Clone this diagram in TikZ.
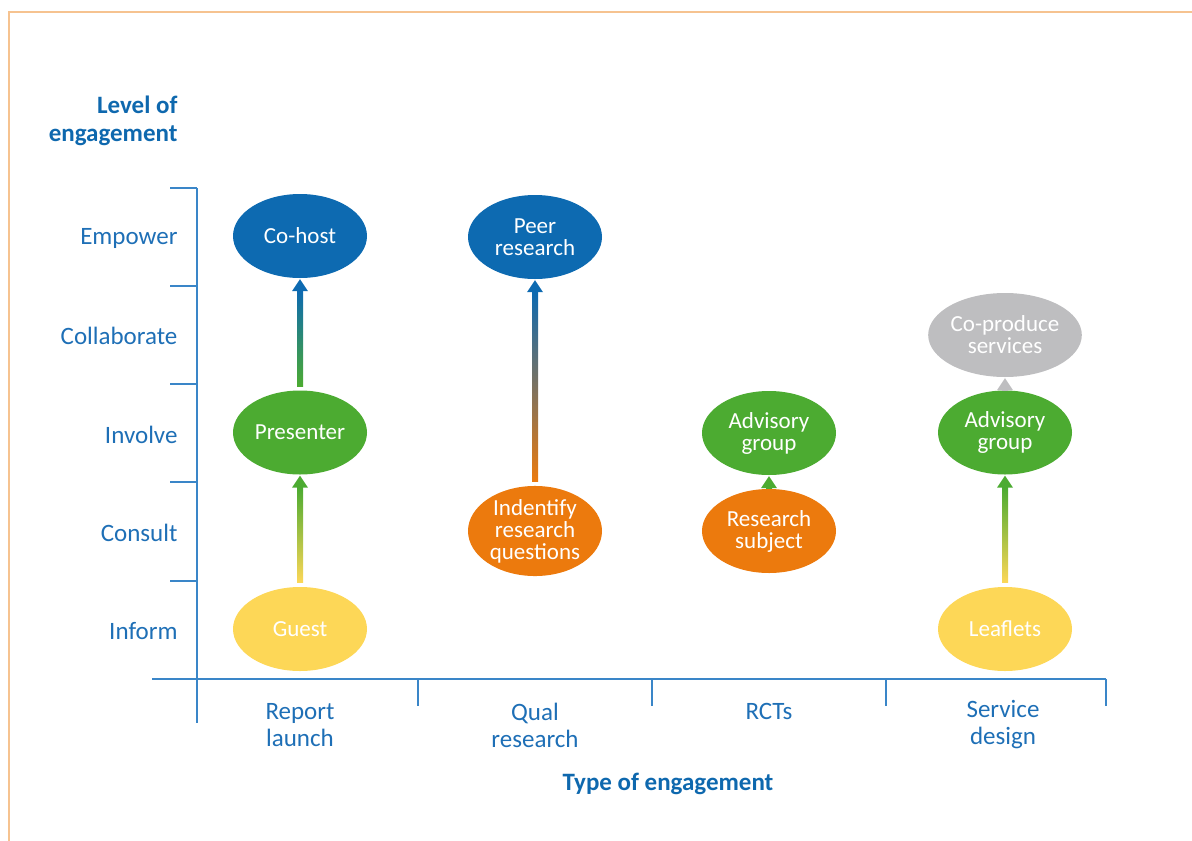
\documentclass[tikz,border=0pt]{standalone}
\usepackage{fontspec}
\setmainfont{Carlito}
\usetikzlibrary{calc,shapes.geometric}

\definecolor{axisblue}{HTML}{3A86C8}
\definecolor{labelblue}{HTML}{1E6FB6}
\definecolor{titleblue}{HTML}{0E68AE}
\definecolor{hostblue}{HTML}{0D6AB1}
\definecolor{leafgreen}{HTML}{4CAB31}
\definecolor{sunyellow}{HTML}{FDD757}
\definecolor{deeporange}{HTML}{EC7A0D}
\definecolor{softgrey}{HTML}{BEBEC0}
\definecolor{frameorange}{HTML}{F6C390}

% shaded shaft from #1 up to #2, bottom colour #3, top colour #4
\newcommand{\riser}[4]{%
  \shade[bottom color=#3, top color=#4] ($(#1.north)+(-3,-4)$) rectangle ($(#2.south)+(3,13)$);
  \fill[#4] ($(#2.south)+(-8,13)$) -- ($(#2.south)+(8,13)$) -- ($(#2.south)+(0,1)$) -- cycle;}

\begin{document}
\begin{tikzpicture}[x=1pt, y=-1pt, node distance=196.5pt,
    role/.style={ellipse, minimum width=134pt, minimum height=84pt, inner sep=0pt,
      text=white, align=center, font=\fontsize{23}{22}\selectfont},
    level/.style={text=labelblue, anchor=east, font=\fontsize{25}{28}\selectfont},
    colname/.style={text=labelblue, align=center, font=\fontsize{25}{27}\selectfont},
    heading/.style={text=titleblue, font=\bfseries\fontsize{25}{28}\selectfont},
    axis/.style={axisblue, line width=1.5pt}]
    \useasboundingbox (0,0) rectangle (1192,841);
    \draw[frameorange, line width=1.5pt] (1192,12) -- (9,12) -- (9,841);

    % axes
    \draw[axis] (197,188) -- (197,723);
    \foreach \y in {188,286,384,482,581}
        \draw[axis] (170,\y) -- (197,\y);
    \draw[axis] (152,679) -- (1106,679);
    \foreach \x in {418,652,886,1106}
        \draw[axis] (\x,679) -- (\x,706);

    \node[heading, anchor=east, align=right] (levelhead) at (181,121) {Level of\\engagement};
    \node[heading] (typehead) at (668,784) {Type of engagement};

    \foreach \name/\y/\txt in {empower/238/Empower, collab/336/Collaborate, involve/435/Involve,
        consult/533/Consult, inform/631/Inform}
        \node[level] (\name) at (181,\y) {\txt};

    \node[colname] (report) at (300,725) {Report\\launch};
    \node[colname] (qual) at (535,725) {Qual\\research};
    \node[colname] (rcts) at (769,711) {RCTs};
    \node[colname] (service) at (1003,725) {Service\\design};

    % report launch
    \node[role, fill=sunyellow] (guest) at (300,629) {Guest};
    \node[role, fill=leafgreen] (presenter) [above of=guest] {Presenter};
    \node[role, fill=hostblue] (cohost) [above of=presenter] {Co-host};

    % qual research
    \node[role, fill=deeporange] (questions) at (535,531) {Indentify\\research\\questions};
    \node[role, fill=hostblue] (peer) at (535,237) {Peer\\research};

    % RCTs
    \node[role, fill=deeporange] (subject) at (769,531) {Research\\subject};
    \node[role, fill=leafgreen] (advisory) at (769,433) {Advisory\\group};

    % service design
    \node[role, fill=sunyellow] (leaflets) at (1005,629) {Leaflets};
    \node[role, fill=leafgreen] (advisoryb) [above of=leaflets] {Advisory\\group};
    \node[role, fill=softgrey] (coproduce) at (1005,335) {Co-produce\\services};

    \riser{guest}{presenter}{sunyellow}{leafgreen}
    \riser{presenter}{cohost}{leafgreen}{hostblue}
    \riser{questions}{peer}{deeporange}{hostblue}
    \riser{subject}{advisory}{leafgreen}{leafgreen}
    \riser{leaflets}{advisoryb}{sunyellow}{leafgreen}
    \riser{advisoryb}{coproduce}{softgrey}{softgrey}
\end{tikzpicture}
\end{document}
